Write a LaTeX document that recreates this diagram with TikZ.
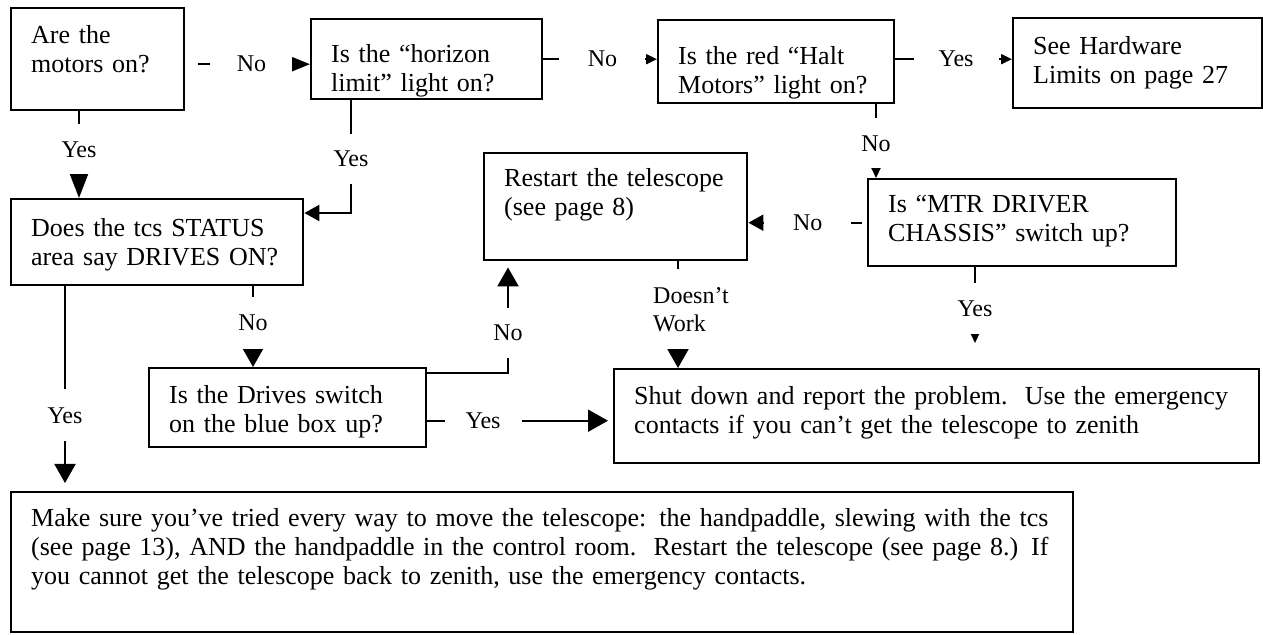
\documentclass[tikz,border=0pt]{standalone}
\usepackage{fontspec}
\setmainfont{Liberation Serif}
\usetikzlibrary{arrows.meta}

\tikzset{
  box/.style={draw, line width=1.2pt, anchor=north west, align=left,
    inner xsep=10pt, inner ysep=0pt, font=\fontsize{13}{14.5}\selectfont},
  link/.style={line width=1pt},
  lab/.style={fill=white, inner sep=0pt, font=\fontsize{12}{14}\selectfont},
  big/.tip={Triangle[length=9.5pt,width=10.5pt]},
  mid/.tip={Triangle[length=7.5pt,width=8pt]},
  small/.tip={Triangle[length=5.5pt,width=5pt]},
}

\begin{document}
\begin{tikzpicture}[x=0.5pt,y=-0.5pt]
	\useasboundingbox (0,0) rectangle (1263,635);
	% question boxes
	\node[box, text width=66.5pt, text height=17.5pt, text depth=33.5pt] (motors) at (10,7) {Are the\\motors on?};
	\node[box, text width=95.5pt, text height=21.5pt, text depth=18.5pt] (horizon) at (310,18) {Is the “horizon\\limit” light on?};
	\node[box, text width=98pt, text height=22pt, text depth=19.5pt] (halt) at (657,19) {Is the red “Halt\\Motors” light on?};
	\node[box, text width=104.5pt, text height=18pt, text depth=27pt] (hwlimits) at (1012,17) {See Hardware\\Limits on page 27};
	\node[box, text width=111.5pt, text height=16.5pt, text depth=37pt] (restart) at (483,152) {Restart the telescope\\(see page 8)};
	\node[box, text width=134pt, text height=16.5pt, text depth=27pt] (chassis) at (867,178) {Is “MTR DRIVER\\CHASSIS” switch up?};
	\node[box, text width=126pt, text height=18.5pt, text depth=24.5pt] (status) at (10,198) {Does the tcs STATUS\\area say DRIVES ON?};
	\node[box, text width=118.5pt, text height=17.5pt, text depth=22pt] (drives) at (148,367) {Is the Drives switch\\on the blue box up?};
	% end boxes
	\node[box, text width=302.5pt, text height=17.5pt, text depth=29.5pt] (shutdown) at (613,368) {Shut down and report the problem.\ \ Use the emergency\\contacts if you can’t get the telescope to zenith};
	\node[box, text width=511pt, text height=17pt, text depth=53pt] (tryall) at (10,491) {Make sure you’ve tried every way to move the telescope: the handpaddle, slewing with the tcs\\(see page 13), AND the handpaddle in the control room.\ \ Restart the telescope (see page 8.) If\\you cannot get the telescope back to zenith, use the emergency contacts.};

	% connectors
	\draw[link, -{Triangle[length=9pt,width=7pt]}, shorten <=6.5pt] ([yshift=-2.5pt]motors.east) -- node[lab, pos=.53, minimum width=41pt] {No} ([yshift=-2.5pt]motors.east -| horizon.west);
	\draw[link, -{small}] (horizon.east) -- node[lab, pos=.52, minimum width=43pt] {No} (horizon.east -| halt.west);
	\draw[link, -{small}] ([yshift=1.25pt]halt.east) -- node[lab, pos=.52, minimum width=42.5pt] {Yes} ([yshift=1.25pt]halt.east -| hwlimits.west);
	\draw[link, -{small}] ([xshift=4.5pt]chassis.north west |- halt.south) -- node[lab, pos=.53, minimum height=25pt] {No} ([xshift=4.5pt]chassis.north west);
	\draw[link, -{mid}, shorten <=2.5pt] (chassis.west) -- node[lab, pos=.5, minimum width=43.5pt] {No} (chassis.west -| restart.east);
	\draw[link, -{Triangle[length=12pt,width=9pt]}] ([xshift=34.5pt]motors.south west) -- node[lab, pos=.44, minimum height=25pt] {Yes} ([xshift=34.5pt]motors.south west |- status.north);
	\draw[link, -{mid}] ([xshift=20.5pt]horizon.south west) |- node[lab, pos=.26, minimum height=25pt] {Yes} ([yshift=-7.5pt]status.north east);
	\draw[link, -{big}] ([xshift=52.5pt]drives.north west |- status.south) -- node[lab, pos=.45, minimum height=26pt] {No} ([xshift=52.5pt]drives.north west);
	\draw[link, -{big}, shorten >=4pt] ([xshift=27.5pt]status.south west) -- node[lab, pos=.63, minimum height=26pt] {Yes} ([xshift=27.5pt]status.south west |- tryall.north);
	\draw[link, -{big}, shorten >=3pt] ([yshift=-3pt]drives.north east) -| node[lab, pos=.68, minimum height=25pt] {No} ([xshift=12.5pt]restart.south west);
	\draw[link, -{Triangle[length=10pt,width=11pt]}, shorten >=2.5pt] ([yshift=-6.5pt]drives.east) -- node[lab, pos=.3, minimum width=38.5pt] {Yes} ([yshift=-6.5pt]drives.east -| shutdown.west);
	\draw[link, -{big}] ([xshift=97.5pt]restart.south west) -- node[lab, pos=.45, minimum height=40pt, xshift=6.5pt, align=left] {Doesn’t\\Work} ([xshift=97.5pt]restart.south west |- shutdown.north);
	\draw[link, -{small}, shorten >=12.5pt] ([xshift=54pt]chassis.south west) -- node[lab, pos=.41, minimum height=25.5pt] {Yes} ([xshift=54pt]chassis.south west |- shutdown.north);
\end{tikzpicture}
\end{document}
